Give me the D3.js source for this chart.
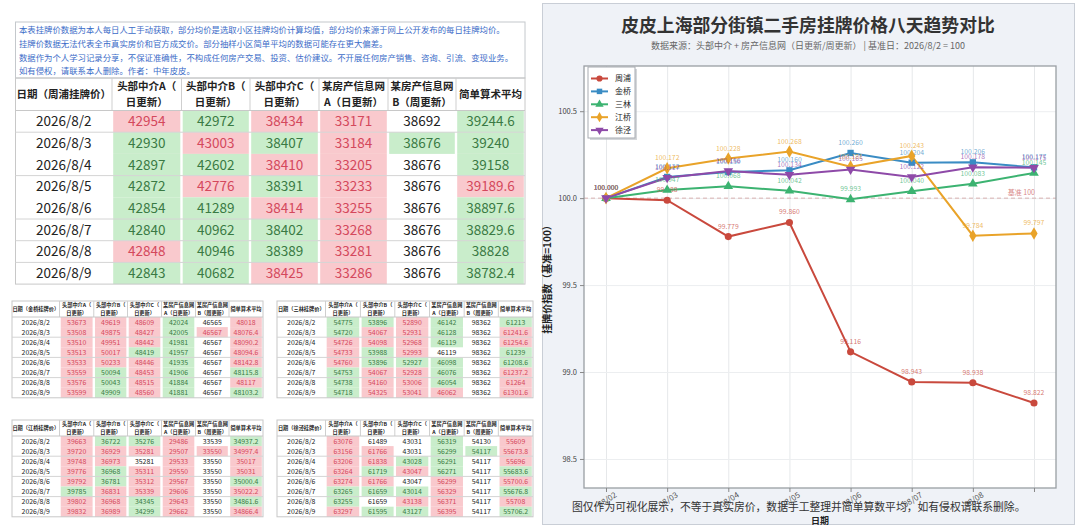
<!DOCTYPE html>
<html>
<head>
<meta charset="utf-8">
<script src="https://cdn.jsdelivr.net/npm/d3@7"></script>
<style>
body { margin: 0; background: #fff; }
text { font-family: "Noto Sans CJK SC", "Noto Sans", sans-serif; }
</style>
</head>
<body>
<svg id="page" width="1080" height="528"></svg>
<script>
// ---- table data ----
var dates = ["2026/8/2", "2026/8/3", "2026/8/4", "2026/8/5", "2026/8/6", "2026/8/7", "2026/8/8", "2026/8/9"];
var col_heads = [["头部中介A（", "日更新）"], ["头部中介B（", "日更新）"], ["头部中介C（", "日更新）"],
                 ["某房产信息网", "A（日更新）"], ["某房产信息网", "B（周更新）"], ["简单算术平均"]];
var note_lines = [
    "本表挂牌价数据为本人每日人工手动获取，部分均价是选取小区挂牌均价计算均值，部分均价来源于网上公开发布的每日挂牌均价。",
    "挂牌价数据无法代表全市真实房价和官方成交价。部分抽样小区简单平均的数据可能存在更大偏差。",
    "数据作为个人学习记录分享，不保证准确性，不构成任何房产交易、投资、估价建议。不开展任何房产销售、咨询、引流、变现业务。",
    "如有侵权，请联系本人删除。作者：中年皮皮。"
];

// p = 涨(粉), g = 跌(绿), w = 不变
var zhoupu_rows = [
    [42954, 42972, 38434, 33171, 38692, 39244.6],
    [42930, 43003, 38407, 33184, 38676, 39240],
    [42897, 42602, 38410, 33205, 38676, 39158],
    [42872, 42776, 38391, 33233, 38676, 39189.6],
    [42854, 41289, 38414, 33255, 38676, 38897.6],
    [42840, 40962, 38402, 33268, 38676, 38829.6],
    [42848, 40946, 38389, 33281, 38676, 38828],
    [42843, 40682, 38425, 33286, 38676, 38782.4]
];
var zhoupu_flags = ["pgppwg", "gpgpgg", "ggppwg", "gpgpwp", "ggppwg", "gggpwg", "pggpwg", "ggppwg"];

var jinqiao_rows = [
    [53673, 49619, 48609, 42024, 46565, 48018],
    [53508, 49875, 48427, 42005, 46567, 48076.4],
    [53510, 49951, 48442, 41981, 46567, 48090.2],
    [53513, 50017, 48419, 41957, 46567, 48094.6],
    [53533, 50233, 48446, 41935, 46567, 48142.8],
    [53559, 50094, 48453, 41906, 46567, 48115.8],
    [53576, 50043, 48515, 41884, 46567, 48117],
    [53599, 49909, 48560, 41881, 46567, 48103.2]
];
var jinqiao_flags = ["pppgwp", "pppgpp", "pppgwp", "ppggwp", "pppgwp", "pgpgwg", "pgpgwp", "pgpgwg"];

var sanlin_rows = [
    [54775, 53896, 52890, 46142, 98362, 61213],
    [54720, 54067, 52931, 46128, 98362, 61241.6],
    [54726, 54098, 52968, 46119, 98362, 61254.6],
    [54733, 53988, 52993, 46119, 98362, 61239],
    [54760, 53896, 52927, 46098, 98362, 61208.6],
    [54753, 54067, 52928, 46076, 98362, 61237.2],
    [54738, 54160, 53006, 46054, 98362, 61264],
    [54718, 54325, 53041, 46062, 98362, 61301.6]
];
var sanlin_flags = ["ggpgwg", "gppgwp", "pppgwp", "pgpwwg", "pgggwg", "gppgwp", "gppgwp", "gpppwp"];

var jiangqiao_rows = [
    [39663, 36722, 35276, 29486, 33539, 34937.2],
    [39720, 36929, 35281, 29507, 33550, 34997.4],
    [39748, 36973, 35281, 29533, 33550, 35017],
    [39776, 36968, 35311, 29550, 33550, 35031],
    [39792, 36781, 35312, 29567, 33550, 35000.4],
    [39785, 36831, 35339, 29606, 33550, 35022.2],
    [39802, 36968, 34345, 29643, 33550, 34861.6],
    [39832, 36989, 34299, 29662, 33550, 34866.4]
];
var jiangqiao_flags = ["pggpwg", "pppppp", "ppwpwp", "pgppwp", "pgppwg", "gpppwp", "ppgpwg", "ppgpwp"];

var xujing_rows = [
    [63076, 61489, 43031, 56319, 54130, 55609],
    [63156, 61766, 43031, 56299, 54117, 55673.8],
    [63206, 61838, 43028, 56291, 54117, 55696],
    [63264, 61719, 43047, 56271, 54117, 55683.6],
    [63274, 61766, 43047, 56299, 54117, 55700.6],
    [63265, 61659, 43014, 56329, 54117, 55676.8],
    [63255, 61659, 43138, 56371, 54117, 55708],
    [63297, 61595, 43127, 56395, 54117, 55706.2]
];
var xujing_flags = ["pwwgwp", "ppwggp", "ppggwp", "pgpgwg", "ppwpwp", "gggpwg", "gwppwp", "pggpwg"];

// ---- chart data (挂牌价指数, 2026/8/2 = 100) ----
var chart_dates = ["08/02", "08/03", "08/04", "08/05", "08/06", "08/07", "08/08", "08/09"];
var series_names = ["周浦", "金桥", "三林", "江桥", "徐泾"];
var zhoupu_idx    = [100.000, 99.988, 99.779, 99.860, 99.116, 98.943, 98.938, 98.822];
var jinqiao_idx   = [100.000, 100.122, 100.150, 100.160, 100.260, 100.204, 100.206, 100.177];
var sanlin_idx    = [100.000, 100.047, 100.068, 100.042, 99.993, 100.040, 100.083, 100.145];
var jiangqiao_idx = [100.000, 100.172, 100.228, 100.268, 100.181, 100.243, 99.784, 99.797];
var xujing_idx    = [100.000, 100.117, 100.156, 100.134, 100.165, 100.122, 100.178, 100.175];
var y_ticks = [98.5, 99.0, 99.5, 100.0, 100.5];

var fill_col = { p: "#f9c9cd", g: "#c9edcb", w: "#ffffff" };
var text_col = { p: "#d4485c", g: "#3a7a44", w: "#222222" };

var svg = d3.select('#page');

document.addEventListener('DOMContentLoaded', function () {
    draw_note();
    draw_table(15.5, 78, 509.5, 32.5, 21.7, "日期（周浦挂牌价）", zhoupu_rows, zhoupu_flags,
               [1, 3, 5, 6, 7], { head: 10.5, body: 13.5 });
    draw_table(12, 301, 251, 16, 10.1, "日期（金桥挂牌价）", jinqiao_rows, jinqiao_flags,
               [2, 4, 6], { head: 5.2, body: 6.9 });
    draw_table(277, 301, 256, 16, 10.1, "日期（三林挂牌价）", sanlin_rows, sanlin_flags,
               [2, 4, 6], { head: 5.2, body: 6.9 });
    draw_table(12, 420, 251, 16, 10.1, "日期（江桥挂牌价）", jiangqiao_rows, jiangqiao_flags,
               [2, 4, 6], { head: 5.2, body: 6.9 });
    draw_table(277, 420, 256, 16, 10.1, "日期（徐泾挂牌价）", xujing_rows, xujing_flags,
               [2, 4, 6], { head: 5.2, body: 6.9 });
    draw_chart();
});

function draw_note() {
    var g = svg.append('g');
    g.append('rect').attr('x', 15.5).attr('y', 22).attr('width', 509.5).attr('height', 56)
        .attr('fill', '#fff').attr('stroke', '#c4c8cc');
    note_lines.forEach(function (t, i) {
        g.append('text').attr('x', 19).attr('y', 33 + i * 13.8)
            .attr('font-size', 8.4).attr('fill', '#3b6cc8').text(t);
    });
}

function draw_table(x0, y0, w, headH, rowH, first_head, rows, flags, breaks, fs) {
    var props = [96.5, 69.5, 68.5, 69, 69, 68, 69];
    var tot = d3.sum(props);
    var edges = [x0];
    props.forEach(function (p) { edges.push(edges[edges.length - 1] + p / tot * w); });
    var h = headH + rows.length * rowH;
    var g = svg.append('g');

    // cell fills
    rows.forEach(function (r, i) {
        r.forEach(function (v, j) {
            var f = flags[i][j];
            if (f === 'w') return;
            g.append('rect')
                .attr('x', edges[j + 1] + 1.2).attr('y', y0 + headH + i * rowH)
                .attr('width', edges[j + 2] - edges[j + 1] - 2.4).attr('height', rowH)
                .attr('fill', fill_col[f]);
        });
    });

    // lines
    g.append('rect').attr('x', x0).attr('y', y0).attr('width', w).attr('height', h)
        .attr('fill', 'none').attr('stroke', '#c8c8c8');
    edges.slice(1, -1).forEach(function (ex) {
        g.append('line').attr('x1', ex).attr('x2', ex).attr('y1', y0).attr('y2', y0 + headH)
            .attr('stroke', '#cfcfcf');
    });
    g.append('line').attr('x1', x0).attr('x2', x0 + w)
        .attr('y1', y0 + headH).attr('y2', y0 + headH).attr('stroke', '#c8c8c8');
    breaks.forEach(function (b) {
        g.append('line').attr('x1', x0).attr('x2', x0 + w)
            .attr('y1', y0 + headH + b * rowH).attr('y2', y0 + headH + b * rowH)
            .attr('stroke', '#d4d4d4');
    });

    // header text
    g.append('text').attr('x', (edges[0] + edges[1]) / 2).attr('y', y0 + headH / 2)
        .attr('dy', '0.35em').attr('text-anchor', 'middle').attr('font-weight', 'bold')
        .attr('font-size', fs.head).attr('fill', '#222').text(first_head);
    col_heads.forEach(function (lines, j) {
        var cx = (edges[j + 1] + edges[j + 2]) / 2;
        lines.forEach(function (t, k) {
            var off = lines.length === 1 ? 0 : (k === 0 ? -0.62 : 0.62);
            g.append('text').attr('x', cx).attr('y', y0 + headH / 2 + off * fs.head * 1.25)
                .attr('dy', '0.35em').attr('text-anchor', 'middle').attr('font-weight', 'bold')
                .attr('font-size', fs.head).attr('fill', '#222').text(t);
        });
    });

    // body text
    rows.forEach(function (r, i) {
        var cy = y0 + headH + (i + 0.5) * rowH;
        g.append('text').attr('x', (edges[0] + edges[1]) / 2).attr('y', cy).attr('dy', '0.36em')
            .attr('text-anchor', 'middle').attr('font-size', fs.body).attr('fill', '#222').text(dates[i]);
        r.forEach(function (v, j) {
            g.append('text').attr('x', (edges[j + 1] + edges[j + 2]) / 2).attr('y', cy).attr('dy', '0.36em')
                .attr('text-anchor', 'middle').attr('font-size', fs.body)
                .attr('fill', text_col[flags[i][j]]).text(v);
        });
    });
}

function draw_chart() {
    var colors = ["#c9493d", "#3a8cc4", "#3cb371", "#e9a329", "#8e4aa8"];
    var symbols = [d3.symbolCircle, d3.symbolSquare, d3.symbolTriangle, d3.symbolDiamond, d3.symbolTriangle];
    var rotate = [0, 0, 0, 0, 180];
    var all_idx = [zhoupu_idx, jinqiao_idx, sanlin_idx, jiangqiao_idx, xujing_idx];

    var left = 584, right = 1056, top = 66, bottom = 488;

    // panel
    svg.append('rect').attr('x', 542.5).attr('y', 3.5).attr('width', 532).attr('height', 521)
        .attr('fill', '#eff2f7').attr('stroke', '#c9ced6');
    svg.append('rect').attr('x', left).attr('y', top).attr('width', right - left).attr('height', bottom - top)
        .attr('fill', '#fff');

    var x = d3.scalePoint().domain(chart_dates).range([left, right]).padding(0.36);
    var y = d3.scaleLinear().domain([98.333, 100.76]).range([bottom, top]);

    // grid
    svg.append('g').attr('transform', 'translate(0,' + bottom + ')')
        .call(d3.axisBottom(x).tickSize(-(bottom - top)).tickFormat(''))
        .call(function (g) { g.select('.domain').remove(); })
        .selectAll('line').attr('stroke', '#e6e8ea');
    svg.append('g').attr('transform', 'translate(' + left + ',0)')
        .call(d3.axisLeft(y).tickValues(y_ticks).tickSize(-(right - left)).tickFormat(''))
        .call(function (g) { g.select('.domain').remove(); })
        .selectAll('line').attr('stroke', '#eceef0');

    // baseline 100
    svg.append('line').attr('x1', left).attr('x2', right).attr('y1', y(100)).attr('y2', y(100))
        .attr('stroke', '#d9b0b0').attr('stroke-width', 1).attr('stroke-dasharray', '4,3');
    svg.append('text').attr('x', x(chart_dates[7]) + 1).attr('y', y(100) - 3)
        .attr('text-anchor', 'end').attr('font-size', 7).attr('fill', '#d98a8a').text('基准 100');

    var line = d3.line().x(function (d, i) { return x(chart_dates[i]); }).y(function (d) { return y(d); });

    all_idx.forEach(function (vals, s) {
        svg.append('path').datum(vals).attr('d', line)
            .attr('fill', 'none').attr('stroke', colors[s]).attr('stroke-width', 2);
    });
    all_idx.forEach(function (vals, s) {
        var sym = d3.symbol().type(symbols[s]).size(s === 3 ? 46 : 40);
        svg.append('g').selectAll('path').data(vals).enter().append('path')
            .attr('d', sym)
            .attr('transform', function (d, i) {
                return 'translate(' + x(chart_dates[i]) + ',' + y(d) + ') rotate(' + rotate[s] + ')';
            })
            .attr('fill', colors[s]);
        svg.append('g').selectAll('text').data(vals).enter().append('text')
            .attr('x', function (d, i) { return x(chart_dates[i]); })
            .attr('y', function (d) { return y(d) - 8; })
            .attr('text-anchor', 'middle').attr('font-size', 6.8)
            .attr('fill', colors[s]).attr('fill-opacity', 0.75)
            .text(function (d) { return d3.format('.3f')(d); });
    });

    // plot border
    svg.append('rect').attr('x', left).attr('y', top).attr('width', right - left).attr('height', bottom - top)
        .attr('fill', 'none').attr('stroke', '#999ea4').attr('stroke-width', 1.3);

    // axes
    var ya = svg.append('g').attr('transform', 'translate(' + left + ',0)')
        .call(d3.axisLeft(y).tickValues(y_ticks).tickSize(4).tickFormat(d3.format('.1f')));
    ya.select('.domain').remove();
    ya.selectAll('line').attr('stroke', '#888');
    ya.selectAll('text').attr('font-size', 7.5).attr('fill', '#444');

    var xa = svg.append('g').attr('transform', 'translate(0,' + bottom + ')')
        .call(d3.axisBottom(x).tickSize(4).tickFormat(function (d, i) { return i < 7 ? d : ''; }));
    xa.select('.domain').remove();
    xa.selectAll('line').attr('stroke', '#888');
    xa.selectAll('text').attr('font-size', 8).attr('fill', '#555')
        .attr('text-anchor', 'middle').attr('y', 0).attr('dy', 0)
        .attr('transform', 'translate(2,14) rotate(-32)');

    // legend
    var lx = 588, ly = 67;
    svg.append('rect').attr('x', lx + 2).attr('y', ly + 2).attr('width', 47).attr('height', 71)
        .attr('fill', '#b8bcc2').attr('opacity', 0.6);
    svg.append('rect').attr('x', lx).attr('y', ly).attr('width', 47).attr('height', 71)
        .attr('fill', '#fff').attr('stroke', '#a8acb2');
    series_names.forEach(function (n, s) {
        var yy = ly + 11.5 + s * 12.9;
        svg.append('line').attr('x1', lx + 3).attr('x2', lx + 20).attr('y1', yy).attr('y2', yy)
            .attr('stroke', colors[s]).attr('stroke-width', 2);
        svg.append('path').attr('d', d3.symbol().type(symbols[s]).size(30))
            .attr('transform', 'translate(' + (lx + 11.5) + ',' + yy + ') rotate(' + rotate[s] + ')')
            .attr('fill', colors[s]);
        svg.append('text').attr('x', lx + 27).attr('y', yy).attr('dy', '0.35em')
            .attr('font-size', 8).attr('fill', '#222').text(n);
    });

    // titles
    svg.append('text').attr('x', 808).attr('y', 32).attr('text-anchor', 'middle')
        .attr('font-size', 17.8).attr('font-weight', 'bold').attr('fill', '#333')
        .text('皮皮上海部分街镇二手房挂牌价格八天趋势对比');
    svg.append('text').attr('x', 808).attr('y', 49).attr('text-anchor', 'middle')
        .attr('font-size', 9).attr('fill', '#666')
        .text('数据来源：头部中介 + 房产信息网（日更新/周更新）  |  基准日：2026/8/2 = 100');
    svg.append('text').attr('transform', 'translate(551,' + ((top + bottom) / 2) + ') rotate(-90)')
        .attr('text-anchor', 'middle').attr('font-size', 10).attr('font-weight', 'bold')
        .attr('fill', '#222').text('挂牌价指数（基准=100）');
    svg.append('text').attr('x', 572).attr('y', 511).attr('font-size', 10.8).attr('fill', '#333')
        .text('图仅作为可视化展示，不等于真实房价，数据手工整理并简单算数平均，如有侵权请联系删除。');
    svg.append('text').attr('x', 820).attr('y', 524).attr('text-anchor', 'middle')
        .attr('font-size', 9).attr('font-weight', 'bold').attr('fill', '#222').text('日期');
}
</script>
</body>
</html>
